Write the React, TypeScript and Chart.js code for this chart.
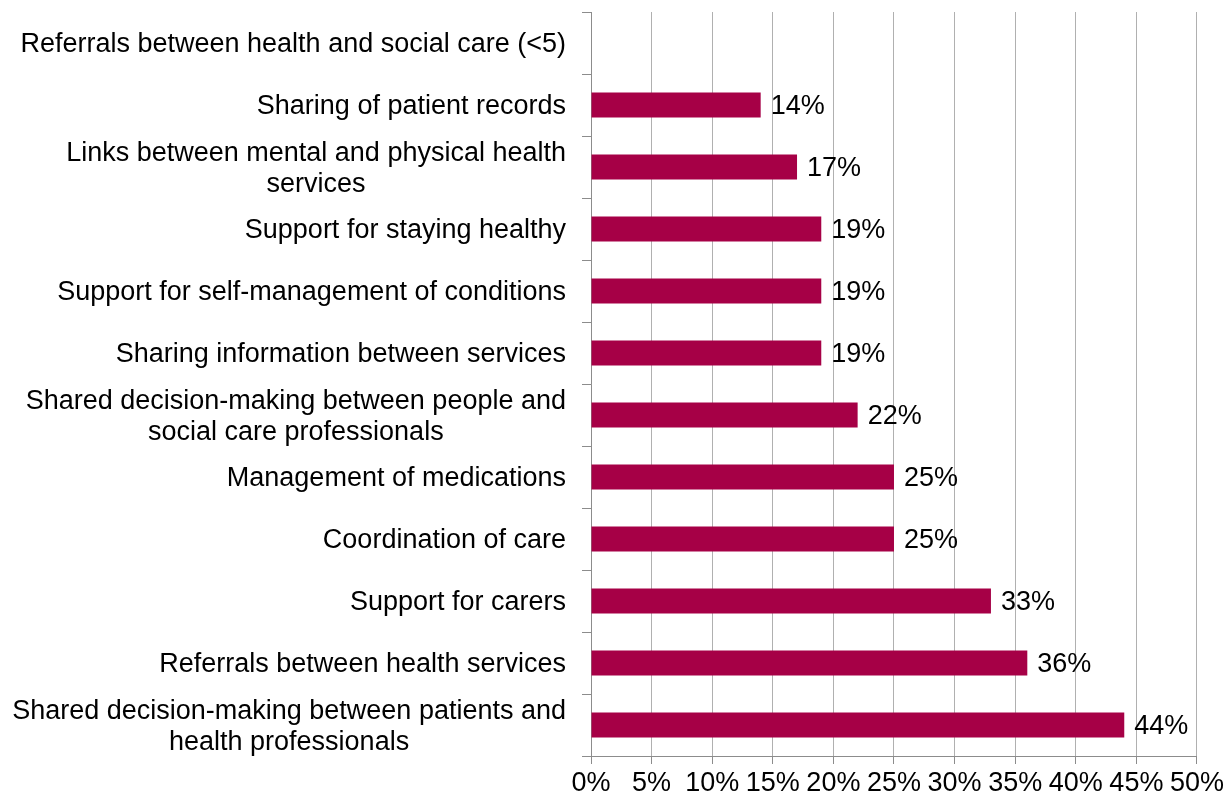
import React, { useEffect, useRef } from "react";
import { Chart, registerables } from "chart.js";

Chart.register(...registerables);

const categories: string[][] = [
  ["Referrals between health and social care (<5)"],
  ["Sharing of patient records"],
  ["Links between mental and physical health", "services"],
  ["Support for staying healthy"],
  ["Support for self-management of conditions"],
  ["Sharing information between services"],
  ["Shared decision-making between people and", "social care professionals"],
  ["Management of medications"],
  ["Coordination of care"],
  ["Support for carers"],
  ["Referrals between health services"],
  ["Shared decision-making between patients and", "health professionals"],
];

const values: (number | null)[] = [null, 14, 17, 19, 19, 19, 22, 25, 25, 33, 36, 44];

const xTicks: number[] = [0, 5, 10, 15, 20, 25, 30, 35, 40, 45, 50];

const BAR_COLOR = "#A60046";
const FONT_FAMILY = "'Liberation Sans', Arial, sans-serif";
const FONT_SIZE = 27;
const TEXT_COLOR = "#000000";

const labelPlugin = {
  id: "customLabels",
  afterDatasetsDraw(chart: any) {
    const ctx = chart.ctx;
    const yScale = chart.scales.y;
    const meta = chart.getDatasetMeta(0);
    ctx.save();
    ctx.fillStyle = TEXT_COLOR;
    ctx.font = `${FONT_SIZE}px ${FONT_FAMILY}`;
    ctx.textBaseline = "middle";
    // category labels: block right-aligned, lines centred within block
    const rightEdge = chart.chartArea.left - 25;
    const lineH = 31;
    categories.forEach((lines, i) => {
      const yc = yScale.getPixelForValue(i) + 2;
      const widths = lines.map((l) => ctx.measureText(l).width);
      const maxW = Math.max(...widths);
      const blockCenter = rightEdge - maxW / 2;
      const y0 = yc - ((lines.length - 1) * lineH) / 2;
      ctx.textAlign = "center";
      lines.forEach((l, j) => {
        ctx.fillText(l, blockCenter, y0 + j * lineH);
      });
    });
    // value labels
    ctx.textAlign = "left";
    meta.data.forEach((bar: any, i: number) => {
      const v = values[i];
      if (v === null || v === undefined) return;
      ctx.fillText(`${v}%`, bar.x + 10, bar.y + 2);
    });
    ctx.restore();
  },
};

export default function App() {
  const canvasRef = useRef<HTMLCanvasElement | null>(null);

  useEffect(() => {
    document.body.style.margin = "0";
    const canvas = canvasRef.current;
    if (!canvas) return;
    const chart = new Chart(canvas, {
      type: "bar",
      data: {
        labels: categories.map((c) => c.join(" ")),
        datasets: [
          {
            data: values as any,
            backgroundColor: BAR_COLOR,
            borderWidth: 0,
            barPercentage: 0.4,
            categoryPercentage: 1,
          },
        ],
      },
      options: {
        indexAxis: "y",
        animation: false,
        responsive: false,
        maintainAspectRatio: false,
        layout: { padding: { left: 0, right: 29, top: 12, bottom: 0 } },
        plugins: {
          legend: { display: false },
          tooltip: { enabled: false },
        },
        scales: {
          x: {
            min: 0,
            max: 50,
            afterBuildTicks: (scale: any) => {
              scale.ticks = xTicks.map((v) => ({ value: v }));
            },
            afterFit: (scale: any) => {
              scale.height = 42;
            },
            grid: {
              color: "#b0b0b0",
              lineWidth: 1,
              drawTicks: true,
              tickLength: 8,
              tickColor: "#8c8c8c",
            },
            border: { display: true, color: "#8c8c8c" },
            ticks: {
              color: TEXT_COLOR,
              font: { family: FONT_FAMILY, size: FONT_SIZE },
              padding: 3,
              maxRotation: 0,
              autoSkip: false,
              callback: (v: any) => `${v}%`,
            },
          },
          y: {
            afterFit: (scale: any) => {
              scale.width = 591;
            },
            grid: {
              drawOnChartArea: false,
              drawTicks: true,
              tickLength: 9,
              color: "#8c8c8c",
              offset: true,
            },
            border: { display: true, color: "#8c8c8c" },
            ticks: { display: false },
          },
        },
      },
      plugins: [labelPlugin],
    });
    return () => chart.destroy();
  }, []);

  return (
    <div style={{ width: 1227, height: 798 }}>
      <canvas ref={canvasRef} width={1227} height={798} style={{ display: "block" }} />
    </div>
  );
}
